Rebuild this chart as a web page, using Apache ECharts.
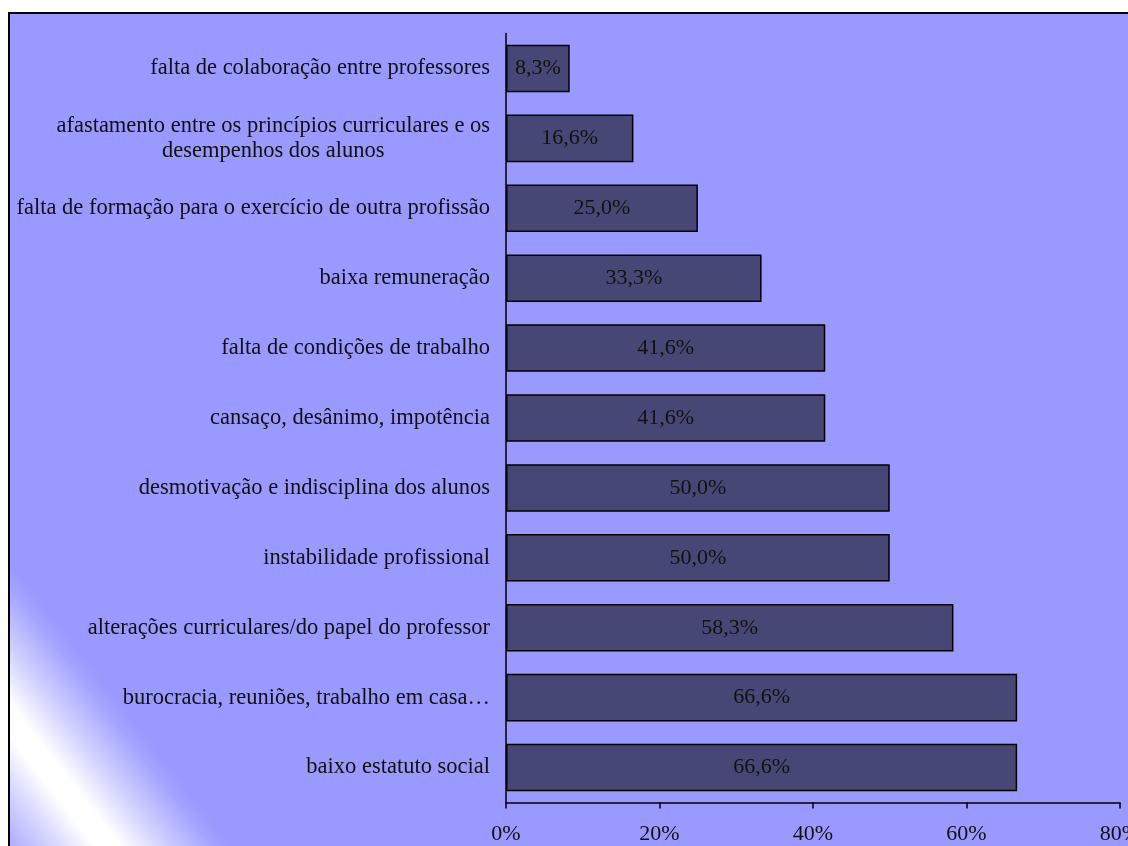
<!DOCTYPE html>
<html>
<head>
<meta charset="utf-8">
<script src="https://cdn.jsdelivr.net/npm/echarts@6/dist/echarts.min.js"></script>
<style>
  html, body { margin: 0; padding: 0; background: #fff; }
  #chart { width: 1128px; height: 846px; }
</style>
</head>
<body>
<div id="chart"></div>
<script>
// categories from bottom to top (category axis starts at the bottom)
const categories = [
  'baixo estatuto social',
  'burocracia, reuniões, trabalho em casa…',
  'alterações curriculares/do papel do professor',
  'instabilidade profissional',
  'desmotivação e indisciplina dos alunos',
  'cansaço, desânimo, impotência',
  'falta de condições de trabalho',
  'baixa remuneração',
  'falta de formação para o exercício de outra profissão',
  'afastamento entre os princípios curriculares e os\ndesempenhos dos alunos',
  'falta de colaboração entre professores'
]
const values = [66.6, 66.6, 58.3, 50.0, 50.0, 41.6, 41.6, 33.3, 25.0, 16.6, 8.3]
const xTicks = [0, 20, 40, 60, 80]

const font = 'Liberation Serif'
const chart = echarts.init(document.getElementById('chart'))

const option = {
  backgroundColor: '#ffffff',
  animation: false,
  graphic: [{
    type: 'rect',
    z: -10,
    shape: { x: 9, y: 13, width: 1130, height: 850 },
    style: {
      // background with the light band in the lower left corner
      fill: new echarts.graphic.LinearGradient(9, 846, 167, 723, [
        { offset: 0, color: '#acacff' },
        { offset: 0.2, color: '#dadaff' },
        { offset: 0.34, color: '#ffffff' },
        { offset: 0.44, color: '#ffffff' },
        { offset: 0.6, color: '#d4d4ff' },
        { offset: 0.8, color: '#a4a4ff' },
        { offset: 0.88, color: '#9999ff' },
        { offset: 1, color: '#9999ff' }
      ], true),
      stroke: '#000',
      lineWidth: 2
    }
  }],
  grid: {
    left: 506,
    right: 8,
    top: 33.5,
    bottom: 43.5,
    containLabel: false,
    outerBoundsMode: 'none'
  },
  xAxis: {
    type: 'value',
    min: xTicks[0],
    max: xTicks[xTicks.length - 1],
    interval: 20,
    axisLine: { show: true, lineStyle: { color: '#000', width: 1.5 } },
    axisTick: { show: true, length: 6, lineStyle: { color: '#000', width: 1.5 } },
    splitLine: { show: false },
    axisLabel: {
      margin: 21,
      fontFamily: font,
      fontSize: 22,
      color: '#111',
      formatter: v => v + '%'
    }
  },
  yAxis: {
    type: 'category',
    data: categories,
    axisLine: { show: true, lineStyle: { color: '#000', width: 1.5 } },
    axisTick: { show: false },
    axisLabel: {
      margin: 16,
      fontFamily: font,
      fontSize: 22.5,
      color: '#111',
      lineHeight: 25,
      formatter: v => '{c|' + v.split('\n').join('}\n{c|') + '}',
      rich: {
        c: { align: 'center', fontFamily: font, fontSize: 22.5, color: '#111', lineHeight: 25 }
      }
    }
  },
  series: [{
    type: 'bar',
    data: values,
    barCategoryGap: '32%',
    itemStyle: {
      color: '#474776',
      borderColor: '#000',
      borderWidth: 1.5
    },
    label: {
      show: true,
      position: 'inside',
      fontFamily: font,
      fontSize: 22,
      color: '#111',
      formatter: p => p.value.toFixed(1).replace('.', ',') + '%'
    }
  }]
}

chart.setOption(option)
</script>
</body>
</html>
